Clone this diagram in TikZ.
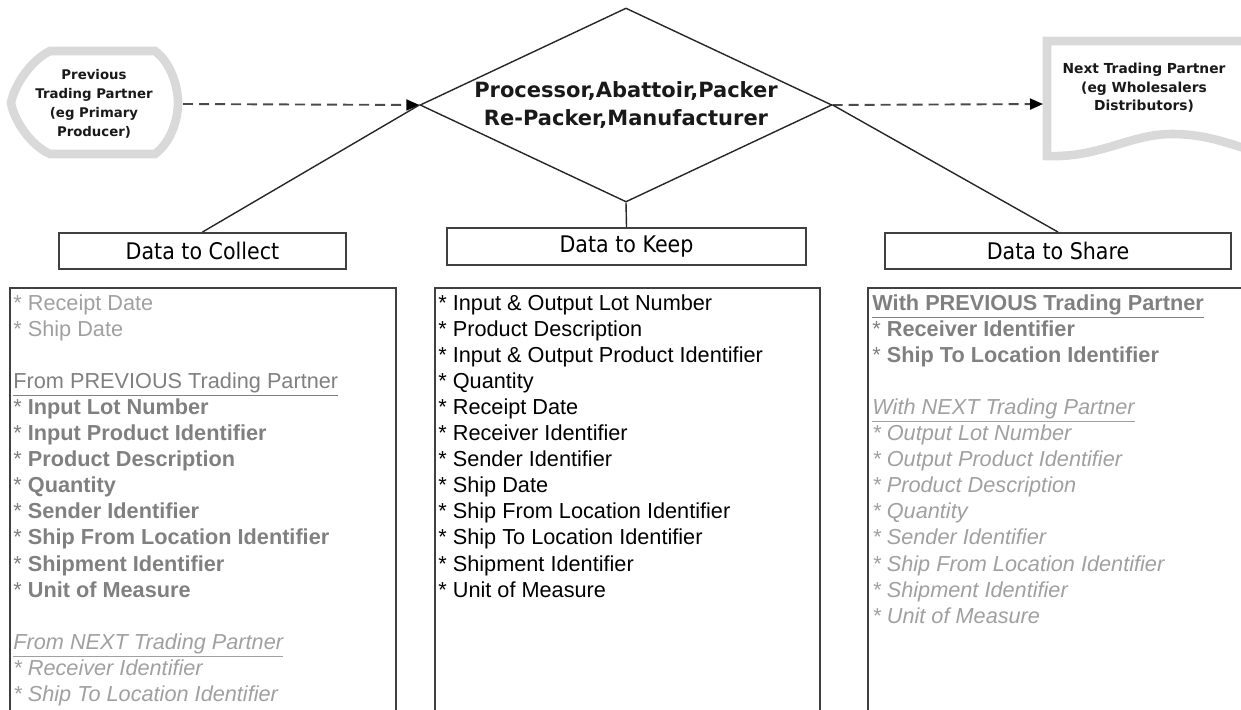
\documentclass[tikz,border=0pt]{standalone}
\usepackage{fontspec}
\setmainfont{Liberation Sans}
\newfontfamily\hdfont[FakeStretch=0.9]{DejaVu Sans}
\newfontfamily\dvfont{DejaVu Sans}
\usetikzlibrary{shapes.geometric,arrows.meta}
\definecolor{shapegray}{HTML}{D9D9D9}
\definecolor{boxline}{HTML}{404040}
\definecolor{txtA}{HTML}{808080}
\definecolor{txtB}{HTML}{A0A0A0}
\definecolor{dashc}{HTML}{4A4A4A}
\begin{document}
\begin{tikzpicture}[x=0.5pt,y=-0.5pt,
  hdbox/.style={draw=boxline, line width=1pt, inner sep=0pt, minimum height=18pt,
    font=\hdfont\fontsize{11.45}{13}\selectfont},
  listbox/.style={draw=boxline, line width=1pt, anchor=north west, inner sep=0pt, minimum height=225pt},
  item/.style={anchor=base west, inner sep=0pt, font=\fontsize{10.85}{13}\selectfont},
  partner/.style={draw=shapegray, line width=4.3pt, fill=white},
  dasharrow/.style={draw=dashc, line width=0.95pt, dash pattern=on 5pt off 3pt,
    -{Triangle[length=6.5pt,width=5.5pt,color=black]}},
  link/.style={draw=black!85, line width=0.7pt},
  ptext/.style={align=center, inner sep=0pt, text=black!90}
]
\useasboundingbox (0,0) rectangle (1241,709);
\clip (0,0) rectangle (1241,709);

% partner shapes
\draw[partner] (50,51) -- (155,51) .. controls (170,62) and (178,85) .. (178,103)
  .. controls (178,121) and (170,143) .. (155,154) -- (50,154)
  .. controls (30,145) and (14,120) .. (11,103) .. controls (14,86) and (30,61) .. (50,51) -- cycle;
\draw[partner] (1047,156) -- (1047,41) -- (1262,41) -- (1262,154)
  .. controls (1228,143) and (1205,134) .. (1172,134)
  .. controls (1130,134) and (1100,158) .. (1047,156) -- cycle;
\node[ptext, font=\dvfont\bfseries\fontsize{6.65}{9.5}\selectfont] (prev) at (94,104)
  {Previous\\Trading Partner\\(eg Primary\\Producer)};
\node[ptext, font=\dvfont\bfseries\fontsize{6.9}{9.3}\selectfont] (next) at (1144,88)
  {Next Trading Partner\\(eg Wholesalers\\Distributors)};

% central diamond
\node[diamond, draw=black!85, line width=0.7pt, inner sep=0pt, aspect=2.12,
  minimum width=206pt, minimum height=97pt] (proc) at (626,105) {};
\node[ptext, font=\dvfont\bfseries\fontsize{10.5}{14}\selectfont] (proctext) at (626,105)
  {Processor,Abattoir,Packer\\Re-Packer,Manufacturer};

% header boxes
\node[hdbox, minimum width=143.5pt] (collect) at (202.5,251) {Data to Collect};
\node[hdbox, minimum width=179.5pt, minimum height=18.5pt] (keep) at (626.5,246.5) {Data to Keep};
\node[hdbox, minimum width=173pt] (share) at (1058,251) {Data to Share};

% connectors
\coordinate (prevE) at (183,104);
\coordinate (nextW) at (1043,104);
\draw[dasharrow] (prevE) -- (proc.west);
\draw[dasharrow] (proc.east) -- (nextW);
\draw[link] (proc.west) -- (collect.north);
\draw[link] (proc.east) -- (share.north);
\draw[link] (proc.south) -- (keep.north);

% list boxes
\node[listbox, minimum width=193pt] (collectlist) at (9,287) {};
\node[listbox, minimum width=192.5pt] (keeplist) at (434,287) {};
\node[listbox, minimum width=200pt] (sharelist) at (867,287) {};

% Data to Collect list
\node[item, text=txtB] (c0) at (13,310) {* Receipt Date};
\node[item, text=txtB] (c1) at (13,336.1) {* Ship Date};
\node[item, text=txtA] (c3) at (13,388.3) {\underline{From PREVIOUS Trading Partner}};
\node[item, text=txtA] (c4) at (13,414.4) {* \textbf{Input Lot Number}};
\node[item, text=txtA] (c5) at (13,440.5) {* \textbf{Input Product Identifier}};
\node[item, text=txtA] (c6) at (13,466.6) {* \textbf{Product Description}};
\node[item, text=txtA] (c7) at (13,492.7) {* \textbf{Quantity}};
\node[item, text=txtA] (c8) at (13,518.8) {* \textbf{Sender Identifier}};
\node[item, text=txtA] (c9) at (13,544.9) {* \textbf{Ship From Location Identifier}};
\node[item, text=txtA] (c10) at (13,571) {* \textbf{Shipment Identifier}};
\node[item, text=txtA] (c11) at (13,597.1) {* \textbf{Unit of Measure}};
\node[item, text=txtB] (c13) at (13,649.3) {\textit{\underline{From NEXT Trading Partner}}};
\node[item, text=txtB] (c14) at (13,675.4) {\textit{* Receiver Identifier}};
\node[item, text=txtB] (c15) at (13,701.5) {\textit{* Ship To Location Identifier}};

% Data to Keep list
\node[item] (k0) at (438,310) {* Input \& Output Lot Number};
\node[item] (k1) at (438,336.1) {* Product Description};
\node[item] (k2) at (438,362.2) {* Input \& Output Product Identifier};
\node[item] (k3) at (438,388.3) {* Quantity};
\node[item] (k4) at (438,414.4) {* Receipt Date};
\node[item] (k5) at (438,440.5) {* Receiver Identifier};
\node[item] (k6) at (438,466.6) {* Sender Identifier};
\node[item] (k7) at (438,492.7) {* Ship Date};
\node[item] (k8) at (438,518.8) {* Ship From Location Identifier};
\node[item] (k9) at (438,544.9) {* Ship To Location Identifier};
\node[item] (k10) at (438,571) {* Shipment Identifier};
\node[item] (k11) at (438,597.1) {* Unit of Measure};

% Data to Share list
\node[item, text=txtA] (s0) at (872,310) {\textbf{\underline{With PREVIOUS Trading Partner}}};
\node[item, text=txtA] (s1) at (872,336.1) {* \textbf{Receiver Identifier}};
\node[item, text=txtA] (s2) at (872,362.2) {* \textbf{Ship To Location Identifier}};
\node[item, text=txtB] (s4) at (872,414.4) {\textit{\underline{With NEXT Trading Partner}}};
\node[item, text=txtB] (s5) at (872,440.5) {\textit{* Output Lot Number}};
\node[item, text=txtB] (s6) at (872,466.6) {\textit{* Output Product Identifier}};
\node[item, text=txtB] (s7) at (872,492.7) {\textit{* Product Description}};
\node[item, text=txtB] (s8) at (872,518.8) {\textit{* Quantity}};
\node[item, text=txtB] (s9) at (872,544.9) {\textit{* Sender Identifier}};
\node[item, text=txtB] (s10) at (872,571) {\textit{* Ship From Location Identifier}};
\node[item, text=txtB] (s11) at (872,597.1) {\textit{* Shipment Identifier}};
\node[item, text=txtB] (s12) at (872,623.2) {\textit{* Unit of Measure}};
\end{tikzpicture}
\end{document}
